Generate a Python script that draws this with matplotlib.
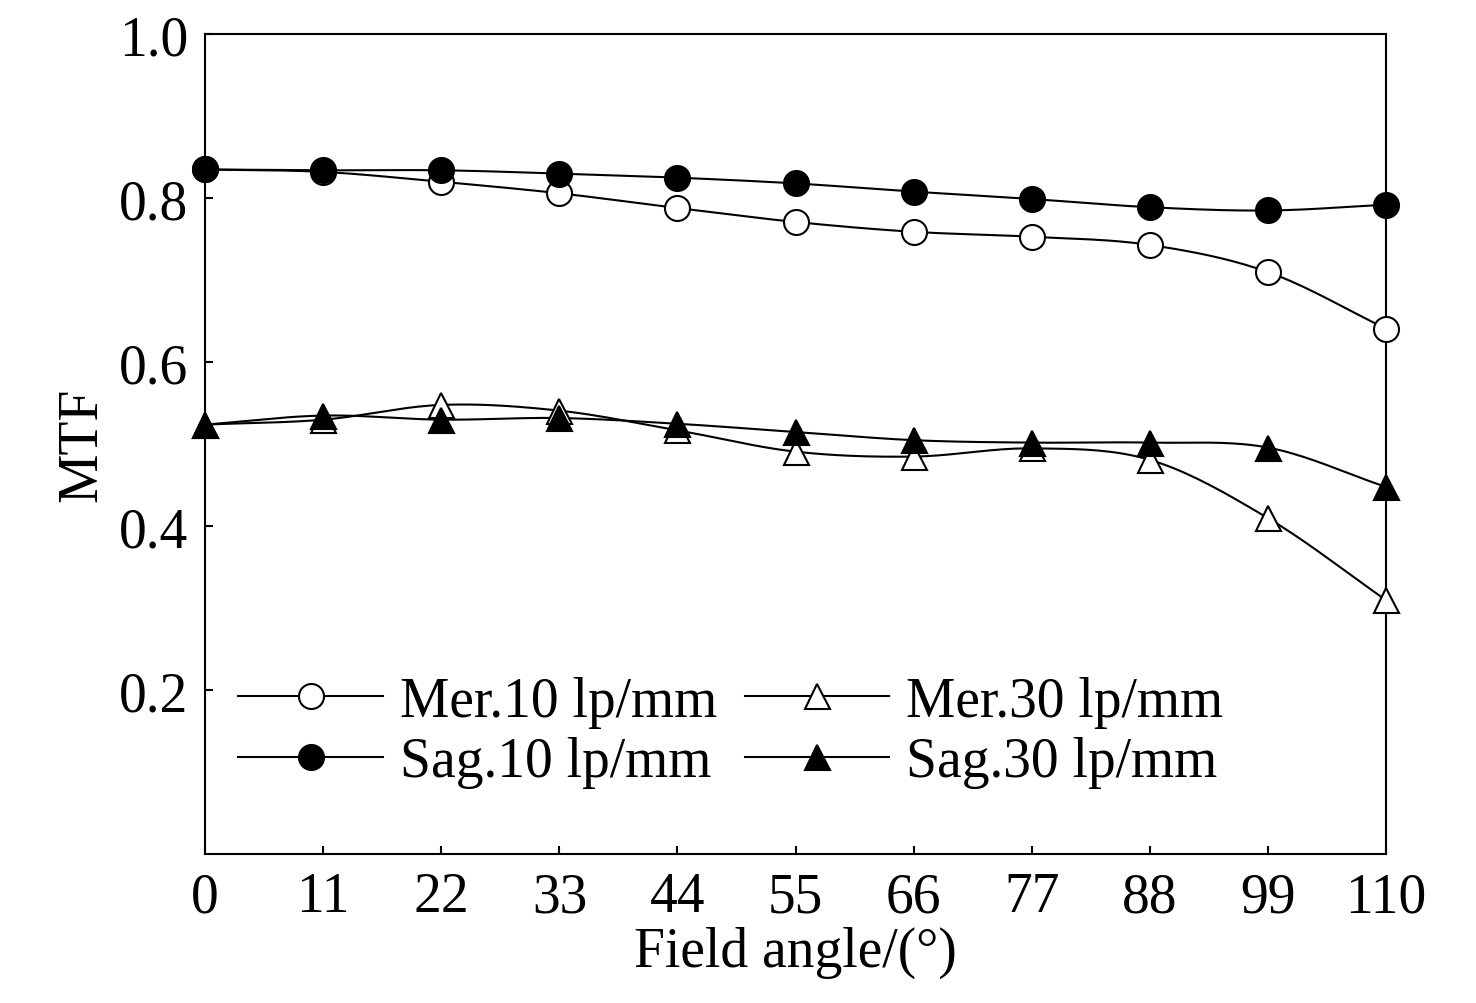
import numpy as np
import matplotlib
matplotlib.use("Agg")
import matplotlib.pyplot as plt

angles = [0, 11, 22, 33, 44, 55, 66, 77, 88, 99, 110]
mer10 = [0.835, 0.832, 0.820, 0.806, 0.788, 0.771, 0.759, 0.753, 0.743, 0.710, 0.641]
sag10 = [0.835, 0.834, 0.834, 0.830, 0.825, 0.818, 0.808, 0.799, 0.789, 0.785, 0.792]
mer30 = [0.524, 0.530, 0.548, 0.541, 0.517, 0.491, 0.485, 0.495, 0.481, 0.410, 0.310]
sag30 = [0.524, 0.535, 0.530, 0.532, 0.525, 0.515, 0.505, 0.502, 0.502, 0.496, 0.448]

plt.rcParams['font.family'] = ['Liberation Serif', 'DejaVu Serif']

def smooth(x, y, n=20):
    x = np.asarray(x, float); y = np.asarray(y, float)
    m = np.gradient(y, x)
    xs, ys = [], []
    for i in range(len(x) - 1):
        h = x[i+1] - x[i]
        t = np.linspace(0, 1, n, endpoint=False)
        h00 = 2*t**3 - 3*t**2 + 1; h10 = t**3 - 2*t**2 + t
        h01 = -2*t**3 + 3*t**2; h11 = t**3 - t**2
        xs.append(x[i] + t*h)
        ys.append(h00*y[i] + h10*h*m[i] + h01*y[i+1] + h11*h*m[i+1])
    xs.append([x[-1]]); ys.append([y[-1]])
    return np.concatenate(xs), np.concatenate(ys)

fig = plt.figure(figsize=(14.76, 10.04), dpi=100)
ax = fig.add_axes([0.139, 0.148, 0.8, 0.817])

series = [(mer10, 'o', 'white', 'Mer.10 lp/mm'),
          (sag10, 'o', 'black', 'Sag.10 lp/mm'),
          (mer30, '^', 'white', 'Mer.30 lp/mm'),
          (sag30, '^', 'black', 'Sag.30 lp/mm')]
handles = []
for vals, mk, fc, lab in series:
    xs, ys = smooth(angles, vals)
    ax.plot(xs, ys, color='black', lw=1.5, zorder=2)
    ax.plot(angles, vals, linestyle='none', marker=mk, ms=18, mfc=fc, mec='black', mew=1.5,
            zorder=3, clip_on=False)
    h, = ax.plot([], [], color='black', lw=1.5, marker=mk, ms=18, mfc=fc, mec='black', mew=1.5, label=lab)
    handles.append(h)

ax.set_xlim(0, 110)
ax.set_ylim(0, 1.0)
ax.set_xticks(angles)
ax.set_yticks([0.2, 0.4, 0.6, 0.8, 1.0])
ax.set_yticklabels(['0.2', '0.4', '0.6', '0.8', '1.0'])
ax.tick_params(direction='in', labelsize=40, length=6, width=1.5, pad=12)
for s in ax.spines.values():
    s.set_linewidth(1.5)
ax.set_xlabel('Field angle/(°)', fontsize=40, labelpad=2)
ax.set_ylabel('MTF', fontsize=40, labelpad=8)
ax.legend(handles=handles, ncol=2, loc='lower left',
          bbox_to_anchor=(0.0, 0.04), frameon=False, fontsize=40, handlelength=2.6,
          columnspacing=0.5, handletextpad=0.3, labelspacing=0.15, borderaxespad=0.2)
fig.savefig('out.png', dpi=100)
